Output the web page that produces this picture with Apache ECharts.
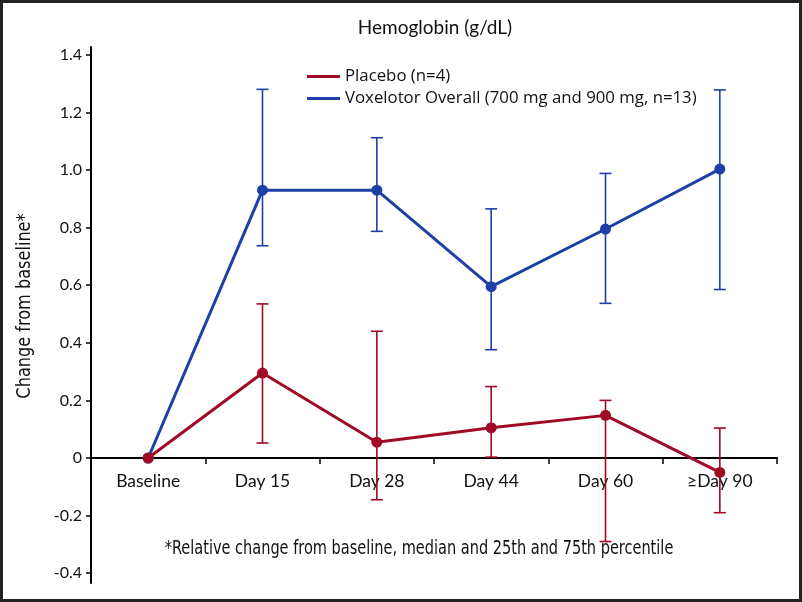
<!DOCTYPE html>
<html>
<head>
<meta charset="utf-8">
<script src="https://cdn.jsdelivr.net/npm/echarts@6/dist/echarts.min.js"></script>
<style>
html,body{margin:0;padding:0;background:#fff;}
#chart{width:802px;height:602px;}
</style>
</head>
<body>
<div id="chart"></div>
<script>
var categories = ['Baseline', 'Day 15', 'Day 28', 'Day 44', 'Day 60', '\u2265Day 90'];
var placeboMedian = [0, 0.295, 0.055, 0.105, 0.148, -0.05];
var placeboQ1 = [null, 0.052, -0.145, 0.003, -0.29, -0.19];
var placeboQ3 = [null, 0.535, 0.44, 0.248, 0.2, 0.104];
var voxMedian = [0, 0.93, 0.93, 0.595, 0.795, 1.003];
var voxQ1 = [null, 0.737, 0.787, 0.376, 0.537, 0.585];
var voxQ3 = [null, 1.28, 1.112, 0.865, 0.988, 1.278];
var yTicks = [-0.4, -0.2, 0, 0.2, 0.4, 0.6, 0.8, 1.0, 1.2, 1.4];

var RED = '#A00A24';
var BLUE = '#1E3FA5';

var Y_MIN = -0.434, Y_MAX = 1.427;
var GRID_TOP = 47, GRID_BOTTOM = 19, H = 602;
var gridH = H - GRID_TOP - GRID_BOTTOM;
var zeroOffset = -(gridH * (0 - Y_MIN) / (Y_MAX - Y_MIN));

function errData(lo, hi) {
  var out = [];
  for (var i = 0; i < lo.length; i++) {
    if (lo[i] != null && hi[i] != null) out.push([i, lo[i], hi[i]]);
  }
  return out;
}

function errRender(color) {
  return function (params, api) {
    var i = api.value(0);
    var pLo = api.coord([i, api.value(1)]);
    var pHi = api.coord([i, api.value(2)]);
    var hw = 6;
    var st = { stroke: color, lineWidth: 1.6 };
    return {
      type: 'group',
      children: [
        { type: 'line', shape: { x1: pLo[0], y1: pLo[1], x2: pHi[0], y2: pHi[1] }, style: st },
        { type: 'line', shape: { x1: pLo[0] - hw, y1: pLo[1], x2: pLo[0] + hw, y2: pLo[1] }, style: st },
        { type: 'line', shape: { x1: pHi[0] - hw, y1: pHi[1], x2: pHi[0] + hw, y2: pHi[1] }, style: st }
      ]
    };
  };
}

var chart = echarts.init(document.getElementById('chart'));
chart.setOption({
  animation: false,
  backgroundColor: '#fff',
  grid: { left: 91, right: 25, top: GRID_TOP, bottom: GRID_BOTTOM, containLabel: false, outerBoundsMode: 'none' },
  legend: {
    data: ['Placebo (n=4)', 'Voxelotor Overall (700 mg and 900 mg, n=13)'],
    orient: 'vertical',
    left: 302,
    top: 63,
    icon: 'rect',
    itemWidth: 33,
    itemHeight: 3,
    itemGap: 5,
    textStyle: { fontFamily: 'Open Sans', fontSize: 16.8, color: '#111' }
  },
  xAxis: {
    type: 'category',
    data: categories,
    boundaryGap: true,
    offset: zeroOffset,
    axisLine: { onZero: false, lineStyle: { color: '#000', width: 2 } },
    axisTick: { show: true, length: 6, lineStyle: { color: '#000', width: 1.5 } },
    axisLabel: { margin: 14, fontFamily: 'Lato', fontSize: 17.5, color: '#111' },
    splitLine: { show: false }
  },
  yAxis: {
    type: 'value',
    min: Y_MIN,
    max: Y_MAX,
    axisLine: { show: true, onZero: false, lineStyle: { color: '#000', width: 2 } },
    axisTick: { show: true, length: 5, customValues: yTicks, lineStyle: { color: '#000', width: 1.5 } },
    axisLabel: {
      margin: 9,
      customValues: yTicks,
      fontFamily: 'Lato',
      fontSize: 16,
      color: '#111',
      formatter: function (v) { return Math.abs(v) < 1e-9 ? '0' : v.toFixed(1); }
    },
    splitLine: { show: false }
  },
  series: [
    {
      name: 'Voxelotor Overall (700 mg and 900 mg, n=13)',
      type: 'line',
      data: voxMedian,
      symbol: 'circle',
      symbolSize: 11,
      itemStyle: { color: BLUE },
      lineStyle: { color: BLUE, width: 3 },
      z: 3
    },
    {
      name: 'voxErr',
      type: 'custom',
      data: errData(voxQ1, voxQ3),
      encode: { x: 0, y: [1, 2] },
      renderItem: errRender(BLUE),
      clip: false,
      z: 2
    },
    {
      name: 'Placebo (n=4)',
      type: 'line',
      data: placeboMedian,
      symbol: 'circle',
      symbolSize: 11,
      itemStyle: { color: RED },
      lineStyle: { color: RED, width: 3 },
      z: 5
    },
    {
      name: 'placeboErr',
      type: 'custom',
      data: errData(placeboQ1, placeboQ3),
      encode: { x: 0, y: [1, 2] },
      renderItem: errRender(RED),
      clip: false,
      z: 4
    }
  ],
  graphic: [
    {
      type: 'text', x: 435, y: 28,
      style: { text: 'Hemoglobin (g/dL)', fontFamily: 'Lato', fontSize: 19, fill: '#111', textAlign: 'center', textVerticalAlign: 'middle' }
    },
    {
      type: 'text', x: 25, y: 306, rotation: Math.PI / 2, scaleX: 0.92,
      style: { text: 'Change from baseline*', fontFamily: '"Liberation Sans Narrow", "DejaVu Sans Condensed", sans-serif', fontSize: 19.5, fill: '#111', textAlign: 'center', textVerticalAlign: 'middle' }
    },
    {
      type: 'text', x: 419, y: 549, scaleX: 0.86,
      style: { text: '*Relative change from baseline, median and 25th and 75th percentile', fontFamily: '"Liberation Sans Narrow", "DejaVu Sans Condensed", sans-serif', fontSize: 18.8, fill: '#111', textAlign: 'center', textVerticalAlign: 'middle' }
    },
    {
      type: 'rect', z: 100, silent: true,
      shape: { x: 1.5, y: 1.5, width: 799, height: 599 },
      style: { fill: null, stroke: '#222', lineWidth: 3 }
    }
  ]
});
</script>
</body>
</html>
